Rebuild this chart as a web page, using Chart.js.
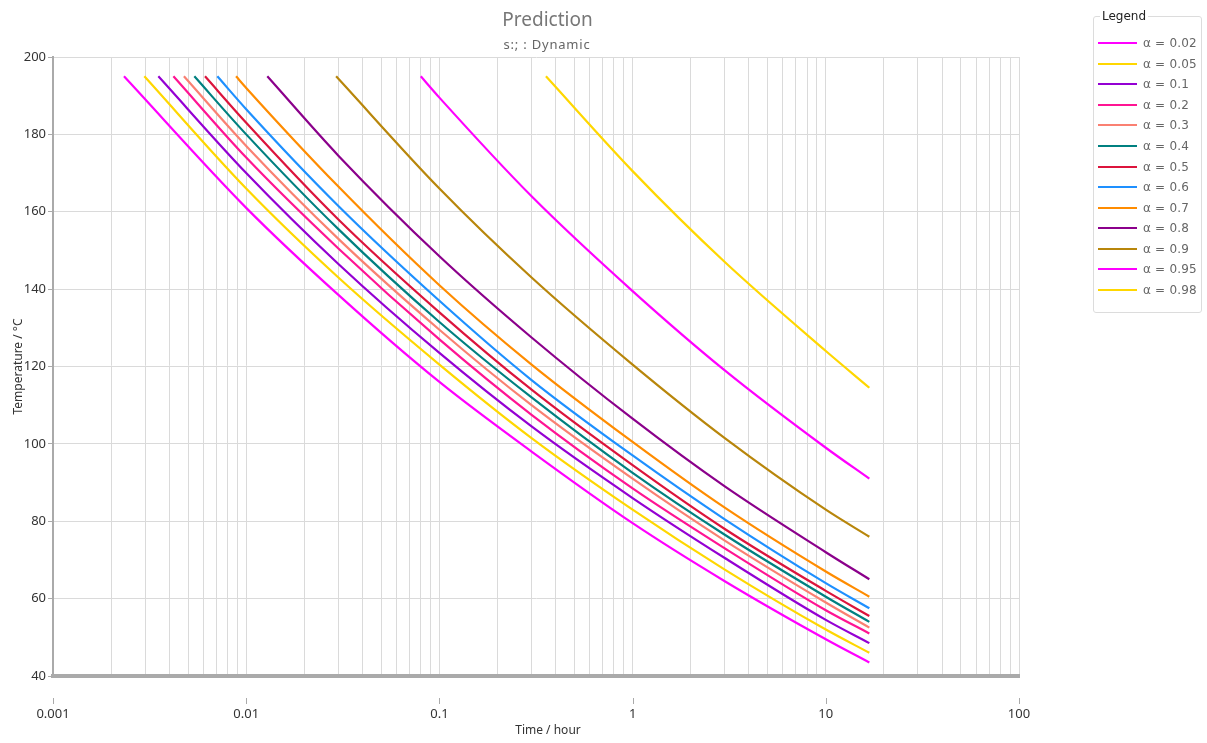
<!DOCTYPE html>
<html>
<head>
<meta charset="utf-8">
<script src="https://cdn.jsdelivr.net/npm/chart.js@4.4.1/dist/chart.umd.min.js"></script>
<style>
  html, body { margin: 0; padding: 0; background: #fff; }
  #wrap { position: relative; width: 1207px; height: 743px; overflow: hidden; }
  #c { position: absolute; left: 0; top: 0; }
  #legend {
    position: absolute; left: 1093px; top: 16px; width: 109px; height: 297px;
    box-sizing: border-box; border: 1px solid #dcdcdc; border-radius: 3px;
    font-family: "DejaVu Sans", sans-serif;
  }
  #legend .ttl {
    position: absolute; left: 6px; top: -9px; background: #fff; padding: 0 2px;
    font-size: 12px; color: #222; line-height: 16px;
  }
  #legend .rows { position: absolute; left: 4px; top: 16px; }
  #legend .row { height: 20.56px; display: flex; align-items: center; }
  #legend .sw { width: 39px; height: 2px; margin-right: 6px; }
  #legend .lb { font-size: 12px; color: #666; white-space: nowrap; letter-spacing: 0.2px; }
</style>
</head>
<body>
<div id="wrap">
  <canvas id="c" width="1207" height="743"></canvas>
  <div id="legend"><span class="ttl">Legend</span><div class="rows" id="rows"></div></div>
</div>
<script>
// Conversion degree (alpha) of each curve
const alphaLabels = ['0.02', '0.05', '0.1', '0.2', '0.3', '0.4', '0.5', '0.6', '0.7', '0.8', '0.9', '0.95', '0.98'];
const lineColors = ['#ff00ff', '#ffd700', '#9400d3', '#ff1493', '#fa8072', '#008080', '#dc143c',
                    '#1e90ff', '#ff8c00', '#8b008b', '#b8860b', '#ff00ff', '#ffd700'];

// Every curve starts at 195 °C and runs until the same end time
const startTemp = 195;
const startHours = [0.00233, 0.00297, 0.00351, 0.0042, 0.00476, 0.00539, 0.00612, 0.00709, 0.00886, 0.01286, 0.0292, 0.0801, 0.356];
const endHour = 16.8;
const endTemps = [43.5, 46, 48.5, 51, 52.5, 54, 55.5, 57.5, 60.5, 65, 76, 91, 114.5];

// Temperatures (°C) at these times (h); null = curve not yet started
const sampleHours = [0.01, 0.03, 0.1, 0.3, 1, 3, 10];
const tempA002 = [161, 138.5, 116, 98, 79.5, 64.5, 49.5];
const tempA005 = [166, 143, 120.5, 101.5, 83, 67.5, 52];
const tempA01  = [170, 146.5, 123.5, 104.5, 86, 70.5, 54.5];
const tempA02  = [174, 150.5, 127, 107.5, 88.5, 73, 57];
const tempA03  = [177, 153, 129.5, 110, 91, 75, 59];
const tempA04  = [180, 155.5, 131.5, 112, 92.5, 76.5, 60.5];
const tempA05  = [183, 158, 134, 114, 94.5, 78, 62];
const tempA06  = [186.5, 161.5, 137, 116.5, 97, 80.5, 64];
const tempA07  = [192, 166.5, 141, 120.5, 100.5, 83.5, 67];
const tempA08  = [null, 174.5, 148.5, 127.5, 106.5, 89, 72];
const tempA09  = [null, null, 166, 143, 120.5, 101.5, 83];
const tempA095 = [null, null, 189.5, 164, 139.5, 119, 99];
const tempA098 = [null, null, null, null, 170.5, 147, 124];
const sampleTemps = [tempA002, tempA005, tempA01, tempA02, tempA03, tempA04, tempA05,
                     tempA06, tempA07, tempA08, tempA09, tempA095, tempA098];

// Axis labels
const xTickLabels = ['0.001', '0.01', '0.1', '1', '10', '100'];
const yTicks = [40, 60, 80, 100, 120, 140, 160, 180, 200];

function seriesPoints(i) {
  const pts = [{ x: startHours[i], y: startTemp }];
  sampleHours.forEach((h, j) => {
    const v = sampleTemps[i][j];
    if (v !== null) pts.push({ x: h, y: v });
  });
  pts.push({ x: endHour, y: endTemps[i] });
  return pts;
}

const datasets = alphaLabels.map((a, i) => ({
  label: 'α = ' + a,
  data: seriesPoints(i),
  borderColor: lineColors[i],
  backgroundColor: lineColors[i],
  borderWidth: 2.2,
  pointRadius: 0,
  pointHoverRadius: 0,
  fill: false,
  cubicInterpolationMode: 'monotone'
}));

// Grid positions on the log axis: 1..9 x 10^e
const xGridValues = [];
for (let e = -3; e <= 1; e++) {
  for (let s = 1; s <= 9; s++) xGridValues.push(Number((s * Math.pow(10, e)).toPrecision(6)));
}
xGridValues.push(100);

const FONT = 'Noto Sans';

const overlayText = {
  id: 'overlayText',
  afterDraw(chart) {
    const ctx = chart.ctx;
    const xs = chart.scales.x;
    ctx.save();
    ctx.textAlign = 'center';
    ctx.textBaseline = 'alphabetic';
    ctx.fillStyle = '#777';
    ctx.font = '19px "' + FONT + '"';
    ctx.fillText('Prediction', 547.5, 26);
    ctx.fillStyle = '#666';
    ctx.font = '13px "' + FONT + '"';
    if ('letterSpacing' in ctx) ctx.letterSpacing = '0.8px';
    ctx.fillText('s:; : Dynamic', 547, 48.5);
    if ('letterSpacing' in ctx) ctx.letterSpacing = '0px';
    ctx.fillStyle = '#333';
    ctx.font = '12px "' + FONT + '"';
    ctx.textBaseline = 'middle';
    ctx.fillText('Time / hour', 548, 731);
    // small marks above the decade labels
    ctx.strokeStyle = '#aaa';
    ctx.lineWidth = 1;
    for (let e = -3; e <= 2; e++) {
      const px = Math.round(xs.getPixelForValue(Math.pow(10, e))) + 0.5;
      ctx.beginPath();
      ctx.moveTo(px, 698);
      ctx.lineTo(px, 704);
      ctx.stroke();
    }
    ctx.restore();
  }
};

const chart = new Chart(document.getElementById('c'), {
  type: 'line',
  data: { datasets },
  plugins: [overlayText],
  options: {
    responsive: false,
    animation: false,
    devicePixelRatio: 1,
    layout: { padding: { top: 57, right: 188, left: 0, bottom: 0 } },
    plugins: { legend: { display: false }, title: { display: false }, tooltip: { enabled: false } },
    scales: {
      x: {
        type: 'logarithmic',
        min: 0.001,
        max: 100,
        afterBuildTicks(s) {
          s.ticks = xGridValues.map(v => ({ value: v }));
        },
        afterFit(s) { s.height = 67; },
        ticks: {
          autoSkip: false,
          maxRotation: 0,
          padding: 30,
          color: '#333',
          font: { family: FONT, size: 13 },
          callback(v) {
            const e = Math.log10(v);
            const r = Math.round(e);
            return Math.abs(e - r) < 1e-6 ? xTickLabels[r + 3] : '';
          }
        },
        grid: { color: '#dadada', lineWidth: 1, drawTicks: false },
        border: { color: '#aaa', width: 4 }
      },
      y: {
        type: 'linear',
        min: yTicks[0],
        max: yTicks[yTicks.length - 1],
        afterFit(s) { s.width = 53; },
        ticks: { stepSize: 20, color: '#333', padding: 2, font: { family: FONT, size: 13 } },
        grid: { color: '#dadada', lineWidth: 1, drawTicks: true, tickLength: 5, tickColor: '#aaa' },
        border: { color: '#aaa', width: 2 },
        title: {
          display: true, text: 'Temperature / °C', color: '#333',
          font: { family: FONT, size: 12 }, padding: { top: 11, bottom: 0 }
        }
      }
    }
  }
});

// HTML legend built from the chart's own datasets
const rows = document.getElementById('rows');
chart.data.datasets.forEach(ds => {
  const row = document.createElement('div');
  row.className = 'row';
  const sw = document.createElement('span');
  sw.className = 'sw';
  sw.style.background = ds.borderColor;
  const lb = document.createElement('span');
  lb.className = 'lb';
  lb.textContent = ds.label;
  row.appendChild(sw);
  row.appendChild(lb);
  rows.appendChild(row);
});
</script>
</body>
</html>
